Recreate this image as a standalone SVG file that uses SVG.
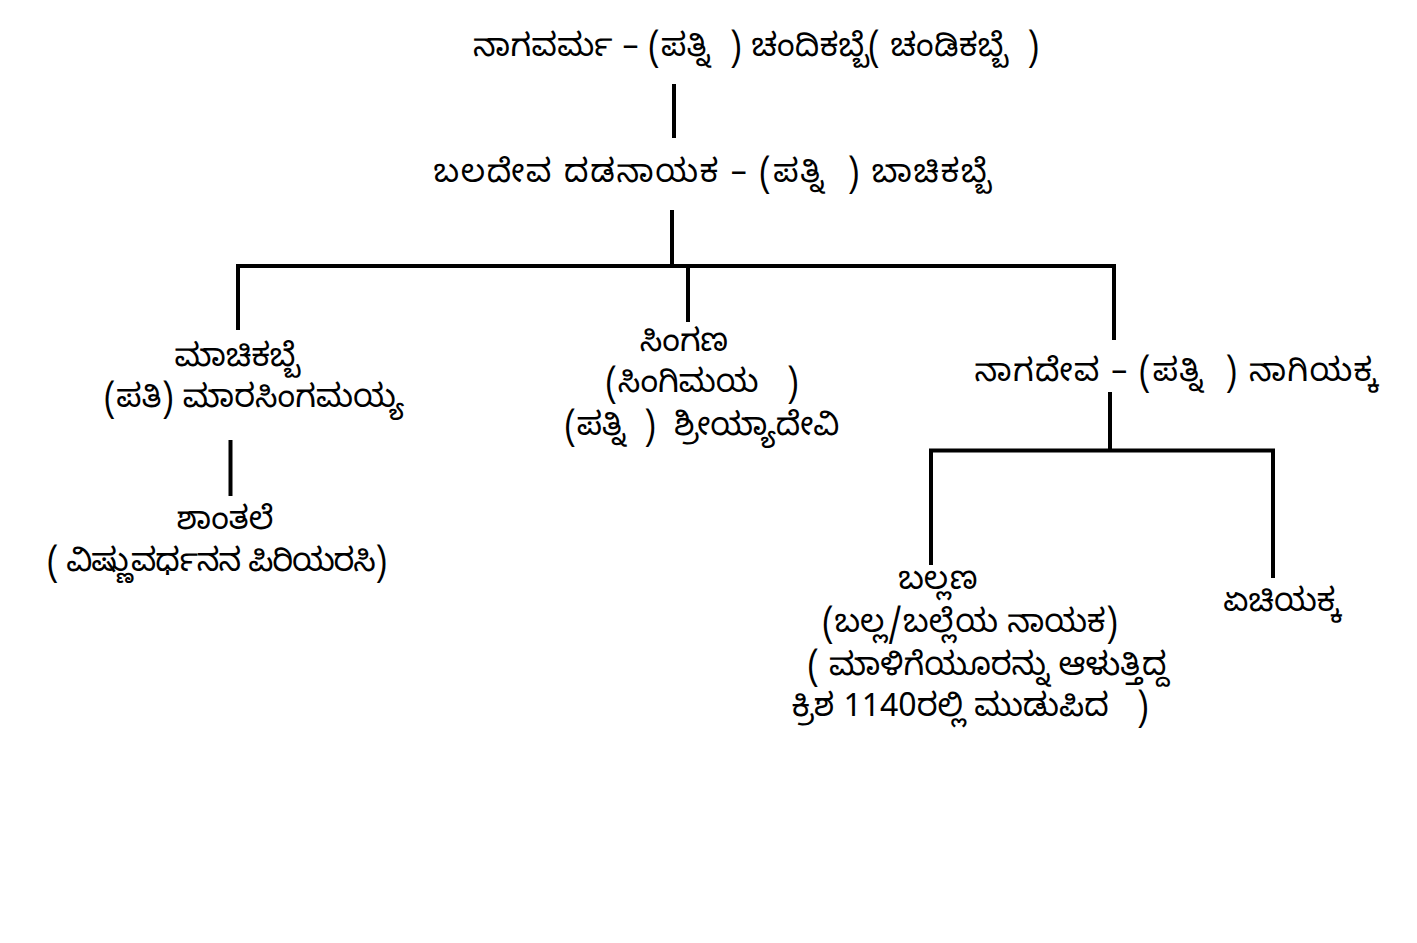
<svg xmlns="http://www.w3.org/2000/svg" width="1417" height="943" viewBox="0 0 1417 943">
<style>
.t{font-family:"Noto Sans Kannada","Lohit Kannada","Noto Sans","DejaVu Sans",sans-serif;font-size:32px;fill:#000;text-anchor:middle;white-space:pre}
.ln{stroke:#000;stroke-width:4;fill:none}
</style>
<rect width="1417" height="943" fill="#fff"/>
<g id="connectors">
<path class="ln" d="M674 84V138"/>
<path class="ln" d="M672 210V266M238 330V266H1114V340M688 266V322"/>
<path class="ln" d="M230.5 440V496"/>
<path class="ln" d="M1110 392V450.5M931 565V450.5H1273V578"/>
</g>
<g id="n1"><text class="t" x="756" y="56" textLength="566" lengthAdjust="spacing" xml:space="preserve">ನಾಗವರ್ಮ – (ಪತ್ನಿ  ) ಚಂದಿಕಬ್ಬೆ( ಚಂಡಿಕಬ್ಬೆ  )</text></g>
<g id="n2"><text class="t" x="712" y="182" textLength="557" lengthAdjust="spacing" xml:space="preserve">ಬಲದೇವ ದಡನಾಯಕ – (ಪತ್ನಿ  ) ಬಾಚಿಕಬ್ಬೆ</text></g>
<g id="n3"><text class="t" x="237" y="366">ಮಾಚಿಕಬ್ಬೆ</text><text class="t" x="254" y="407">(ಪತಿ) ಮಾರಸಿಂಗಮಯ್ಯ</text></g>
<g id="n4"><text class="t" x="684" y="351">ಸಿಂಗಣ</text><text class="t" x="702" y="392" xml:space="preserve">(ಸಿಂಗಿಮಯ   )</text><text class="t" x="702" y="435" xml:space="preserve">(ಪತ್ನಿ  )  ಶ್ರೀಯ್ಯಾದೇವಿ</text></g>
<g id="n5"><text class="t" x="1176" y="381" textLength="403" lengthAdjust="spacing" xml:space="preserve">ನಾಗದೇವ – (ಪತ್ನಿ  ) ನಾಗಿಯಕ್ಕ</text></g>
<g id="n6"><text class="t" x="225" y="529">ಶಾಂತಲೆ</text><text class="t" x="217" y="571" textLength="340" lengthAdjust="spacing">( ವಿಷ್ಣುವರ್ಧನನ ಪಿರಿಯರಸಿ)</text></g>
<g id="n7"><text class="t" x="938" y="589">ಬಲ್ಲಣ</text><text class="t" x="970" y="632">(ಬಲ್ಲ/ಬಲ್ಲೆಯ ನಾಯಕ)</text><text class="t" x="988" y="675">( ಮಾಳಿಗೆಯೂರನ್ನು ಆಳುತ್ತಿದ್ದ</text><text class="t" x="970" y="716" xml:space="preserve">ಕ್ರಿಶ 1140ರಲ್ಲಿ ಮುಡುಪಿದ   )</text></g>
<g id="n8"><text class="t" x="1282" y="611">ಏಚಿಯಕ್ಕ</text></g>
</svg>
